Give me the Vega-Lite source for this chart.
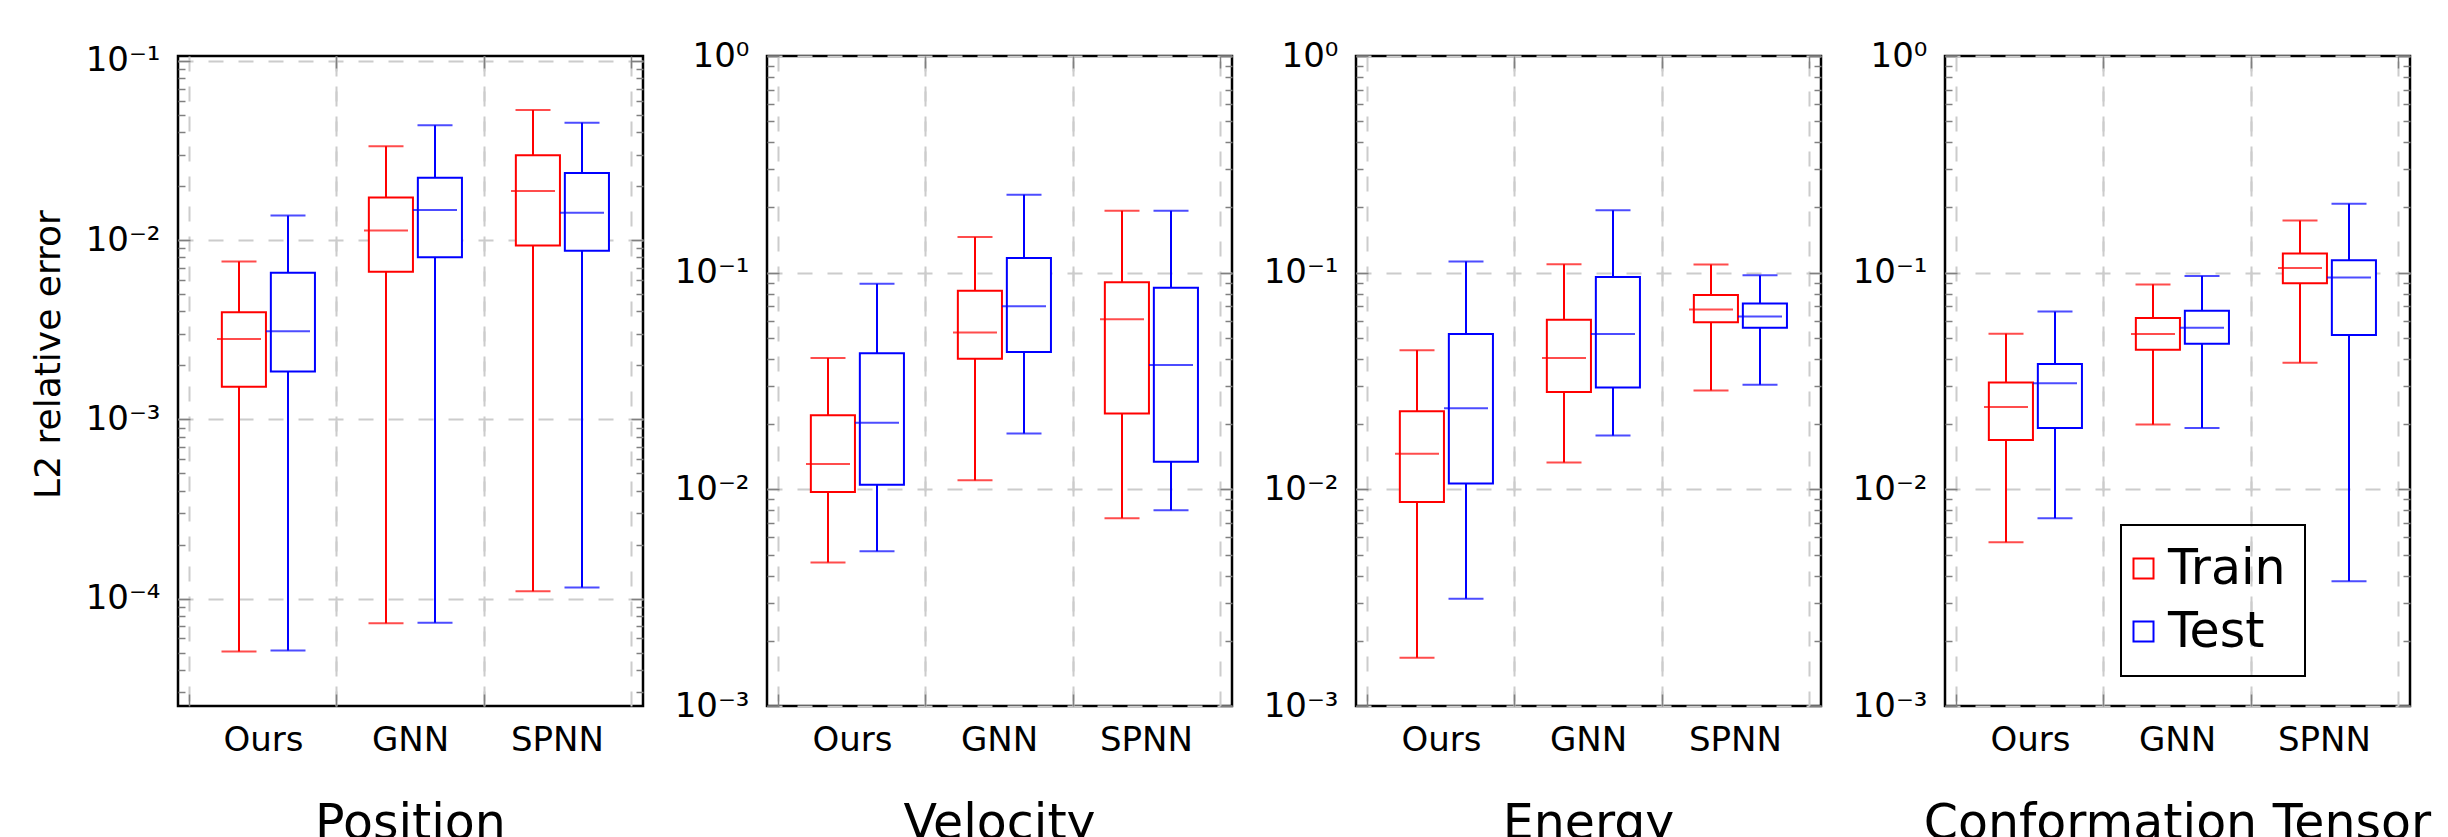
{
  "$schema": "https://vega.github.io/schema/vega-lite/v6.json",
  "padding": {"left": 28, "top": 37, "right": 0, "bottom": -10},
  "spacing": 124,
  "bounds": "flush",
  "config": {"view": {"stroke": "black", "strokeWidth": 2.5}, "font": "DejaVu Sans"},
  "resolve": {"scale": {"stroke": "independent", "fill": "independent"}, "legend": {"stroke": "independent", "fill": "independent"}},
  "data": {"values": [
    {"panel": "Position", "method": "Ours", "set": "Train", "lower": 5.07e-5, "q1": 1.52e-3, "median": 2.81e-3, "q3": 3.96e-3, "upper": 7.6e-3},
    {"panel": "Position", "method": "Ours", "set": "Test", "lower": 5.14e-5, "q1": 1.85e-3, "median": 3.1e-3, "q3": 6.58e-3, "upper": 1.37e-2},
    {"panel": "Position", "method": "GNN", "set": "Train", "lower": 7.3e-5, "q1": 6.67e-3, "median": 1.13e-2, "q3": 1.73e-2, "upper": 3.34e-2},
    {"panel": "Position", "method": "GNN", "set": "Test", "lower": 7.35e-5, "q1": 8.03e-3, "median": 1.47e-2, "q3": 2.23e-2, "upper": 4.37e-2},
    {"panel": "Position", "method": "SPNN", "set": "Train", "lower": 1.10e-4, "q1": 9.34e-3, "median": 1.88e-2, "q3": 2.97e-2, "upper": 5.32e-2},
    {"panel": "Position", "method": "SPNN", "set": "Test", "lower": 1.155e-4, "q1": 8.72e-3, "median": 1.42e-2, "q3": 2.37e-2, "upper": 4.52e-2},
    {"panel": "Velocity", "method": "Ours", "set": "Train", "lower": 4.6e-3, "q1": 9.72e-3, "median": 1.31e-2, "q3": 2.2e-2, "upper": 4.04e-2},
    {"panel": "Velocity", "method": "Ours", "set": "Test", "lower": 5.18e-3, "q1": 1.05e-2, "median": 2.03e-2, "q3": 4.25e-2, "upper": 8.88e-2},
    {"panel": "Velocity", "method": "GNN", "set": "Train", "lower": 1.1e-2, "q1": 4.01e-2, "median": 5.3e-2, "q3": 8.25e-2, "upper": 0.146},
    {"panel": "Velocity", "method": "GNN", "set": "Test", "lower": 1.81e-2, "q1": 4.3e-2, "median": 7.0e-2, "q3": 0.117, "upper": 0.229},
    {"panel": "Velocity", "method": "SPNN", "set": "Train", "lower": 7.36e-3, "q1": 2.24e-2, "median": 6.1e-2, "q3": 9.03e-2, "upper": 0.193},
    {"panel": "Velocity", "method": "SPNN", "set": "Test", "lower": 8.01e-3, "q1": 1.34e-2, "median": 3.75e-2, "q3": 8.53e-2, "upper": 0.193},
    {"panel": "Energy", "method": "Ours", "set": "Train", "lower": 1.67e-3, "q1": 8.73e-3, "median": 1.46e-2, "q3": 2.29e-2, "upper": 4.39e-2},
    {"panel": "Energy", "method": "Ours", "set": "Test", "lower": 3.13e-3, "q1": 1.064e-2, "median": 2.37e-2, "q3": 5.21e-2, "upper": 0.1127},
    {"panel": "Energy", "method": "GNN", "set": "Train", "lower": 1.33e-2, "q1": 2.81e-2, "median": 4.04e-2, "q3": 6.07e-2, "upper": 0.1094},
    {"panel": "Energy", "method": "GNN", "set": "Test", "lower": 1.77e-2, "q1": 2.95e-2, "median": 5.21e-2, "q3": 9.55e-2, "upper": 0.194},
    {"panel": "Energy", "method": "SPNN", "set": "Train", "lower": 2.86e-2, "q1": 5.9e-2, "median": 6.76e-2, "q3": 7.88e-2, "upper": 0.109},
    {"panel": "Energy", "method": "SPNN", "set": "Test", "lower": 3.04e-2, "q1": 5.57e-2, "median": 6.28e-2, "q3": 7.2e-2, "upper": 9.72e-2},
    {"panel": "Conformation Tensor", "method": "Ours", "set": "Train", "lower": 5.7e-3, "q1": 1.69e-2, "median": 2.4e-2, "q3": 3.11e-2, "upper": 5.23e-2},
    {"panel": "Conformation Tensor", "method": "Ours", "set": "Test", "lower": 7.36e-3, "q1": 1.92e-2, "median": 3.09e-2, "q3": 3.79e-2, "upper": 6.61e-2},
    {"panel": "Conformation Tensor", "method": "GNN", "set": "Train", "lower": 1.99e-2, "q1": 4.41e-2, "median": 5.21e-2, "q3": 6.18e-2, "upper": 8.83e-2},
    {"panel": "Conformation Tensor", "method": "GNN", "set": "Test", "lower": 1.92e-2, "q1": 4.7e-2, "median": 5.57e-2, "q3": 6.68e-2, "upper": 9.66e-2},
    {"panel": "Conformation Tensor", "method": "SPNN", "set": "Train", "lower": 3.84e-2, "q1": 8.93e-2, "median": 0.1052, "q3": 0.1227, "upper": 0.174},
    {"panel": "Conformation Tensor", "method": "SPNN", "set": "Test", "lower": 3.77e-3, "q1": 5.15e-2, "median": 9.5e-2, "q3": 0.114, "upper": 0.208}
  ]},
  "hconcat": [
    {
      "width": 465, "height": 650,
      "title": {"text": "Position", "orient": "bottom", "fontSize": 49, "font": "DejaVu Sans", "fontWeight": "normal", "color": "black", "offset": 43},
      "transform": [{"filter": "datum.panel == 'Position'"}],
      "resolve": {"axis": {"x": "independent", "y": "independent"}},
      "layer": [
        {"mark": {"type": "rule", "strokeWidth": 2},
         "encoding": {
           "x": {"field": "method", "type": "nominal", "sort": ["Ours", "GNN", "SPNN"], "scale": {"paddingInner": 0, "paddingOuter": 0.0816}, "axis": {"orient": "bottom", "title": null, "labelAngle": 0, "labelFont": "DejaVu Sans", "labelFontSize": 34, "labelColor": "black", "labelPadding": 17, "ticks": false, "grid": false, "domain": false, "bandPosition": 0.5}},
           "xOffset": {"field": "set", "type": "nominal", "sort": ["Train", "Test"], "scale": {"paddingInner": 0, "paddingOuter": 0.5}},
           "y": {"field": "lower", "type": "quantitative", "scale": {"type": "log", "domain": [2.52e-5, 0.1064], "nice": false}, "axis": {"orient": "left", "title": "L2 relative error", "titleFont": "DejaVu Sans", "titleFontSize": 36, "titleFontWeight": "normal", "titleColor": "black", "titlePadding": 18, "titleY": 298, "values": [0.0001, 0.001, 0.01, 0.1], "labelExpr": "datum.value >= 0.99 ? '10⁰' : datum.value >= 0.099 ? '10⁻¹' : datum.value >= 0.0099 ? '10⁻²' : datum.value >= 0.00099 ? '10⁻³' : '10⁻⁴'", "labelFont": "DejaVu Sans", "labelFontSize": 34, "labelColor": "black", "labelPadding": 18, "ticks": false, "grid": false, "domain": false}},
           "y2": {"field": "q1"},
           "stroke": {"field": "set", "type": "nominal", "scale": {"domain": ["Train", "Test"], "range": ["#ff0000", "#0000ff"]}, "legend": null}
         }},
        {"mark": {"type": "rule", "strokeWidth": 2},
         "encoding": {
           "x": {"field": "method", "type": "nominal", "sort": ["Ours", "GNN", "SPNN"], "scale": {"paddingInner": 0, "paddingOuter": 0.0816}, "axis": {"orient": "bottom", "title": null, "labels": false, "ticks": true, "tickSize": -12, "tickColor": "#808080", "tickWidth": 1.5, "grid": true, "gridColor": "#cccccc", "gridDash": [15, 15], "gridWidth": 2, "domain": false, "bandPosition": 0}},
           "xOffset": {"field": "set", "type": "nominal", "sort": ["Train", "Test"], "scale": {"paddingInner": 0, "paddingOuter": 0.5}},
           "y": {"field": "q3", "type": "quantitative", "scale": {"type": "log", "domain": [2.52e-5, 0.1064], "nice": false}, "axis": {"orient": "left", "title": null, "labels": false, "values": [0.0001, 0.001, 0.01, 0.1], "tickSize": -12, "tickColor": "#808080", "tickWidth": 1.5, "grid": true, "gridColor": "#cccccc", "gridDash": [15, 15], "gridWidth": 2, "domain": false}},
           "y2": {"field": "upper"},
           "stroke": {"field": "set", "type": "nominal", "scale": {"domain": ["Train", "Test"], "range": ["#ff0000", "#0000ff"]}, "legend": null}
         }},
        {"mark": {"type": "bar", "filled": false, "fill": "white", "strokeWidth": 2, "width": {"band": 0.9}},
         "encoding": {
           "x": {"field": "method", "type": "nominal", "sort": ["Ours", "GNN", "SPNN"], "scale": {"paddingInner": 0, "paddingOuter": 0.0816}, "axis": {"orient": "top", "title": null, "labels": false, "ticks": true, "tickSize": -12, "tickColor": "#808080", "tickWidth": 1.5, "grid": true, "gridColor": "#cccccc", "gridDash": [15, 15], "gridWidth": 2, "domain": false, "bandPosition": 1}},
           "xOffset": {"field": "set", "type": "nominal", "sort": ["Train", "Test"], "scale": {"paddingInner": 0, "paddingOuter": 0.5}},
           "y": {"field": "q1", "type": "quantitative", "scale": {"type": "log", "domain": [2.52e-5, 0.1064], "nice": false}, "axis": {"orient": "left", "title": null, "labels": false, "values": [3e-5, 4e-5, 5e-5, 6e-5, 7e-5, 8e-5, 9e-5, 2e-4, 3e-4, 4e-4, 5e-4, 6e-4, 7e-4, 8e-4, 9e-4, 0.002, 0.003, 0.004, 0.005, 0.006, 0.007, 0.008, 0.009, 0.02, 0.03, 0.04, 0.05, 0.06, 0.07, 0.08, 0.09], "tickSize": -7, "tickColor": "#808080", "tickWidth": 1.5, "grid": false, "domain": false}},
           "y2": {"field": "q3"},
           "stroke": {"field": "set", "type": "nominal", "scale": {"domain": ["Train", "Test"], "range": ["#ff0000", "#0000ff"]}, "legend": null}
         }},
        {"mark": {"type": "tick", "orient": "horizontal", "size": 44, "thickness": 2},
         "encoding": {
           "x": {"field": "method", "type": "nominal", "sort": ["Ours", "GNN", "SPNN"], "scale": {"paddingInner": 0, "paddingOuter": 0.0816}, "axis": null},
           "xOffset": {"field": "set", "type": "nominal", "sort": ["Train", "Test"], "scale": {"paddingInner": 0, "paddingOuter": 0.5}},
           "y": {"field": "median", "type": "quantitative", "scale": {"type": "log", "domain": [2.52e-5, 0.1064], "nice": false}, "axis": {"orient": "right", "title": null, "labels": false, "values": [0.0001, 0.001, 0.01, 0.1], "tickSize": -12, "tickColor": "#808080", "tickWidth": 1.5, "grid": false, "domain": false}},
           "fill": {"field": "set", "type": "nominal", "scale": {"domain": ["Train", "Test"], "range": ["#ff0000", "#0000ff"]}, "legend": null}
         }},
        {"mark": {"type": "tick", "orient": "horizontal", "size": 35, "thickness": 2},
         "encoding": {
           "x": {"field": "method", "type": "nominal", "sort": ["Ours", "GNN", "SPNN"], "scale": {"paddingInner": 0, "paddingOuter": 0.0816}, "axis": null},
           "xOffset": {"field": "set", "type": "nominal", "sort": ["Train", "Test"], "scale": {"paddingInner": 0, "paddingOuter": 0.5}},
           "y": {"field": "lower", "type": "quantitative", "scale": {"type": "log", "domain": [2.52e-5, 0.1064], "nice": false}, "axis": {"orient": "right", "title": null, "labels": false, "values": [3e-5, 4e-5, 5e-5, 6e-5, 7e-5, 8e-5, 9e-5, 2e-4, 3e-4, 4e-4, 5e-4, 6e-4, 7e-4, 8e-4, 9e-4, 0.002, 0.003, 0.004, 0.005, 0.006, 0.007, 0.008, 0.009, 0.02, 0.03, 0.04, 0.05, 0.06, 0.07, 0.08, 0.09], "tickSize": -7, "tickColor": "#808080", "tickWidth": 1.5, "grid": false, "domain": false}},
           "fill": {"field": "set", "type": "nominal", "scale": {"domain": ["Train", "Test"], "range": ["#ff0000", "#0000ff"]}, "legend": null}
         }},
        {"mark": {"type": "tick", "orient": "horizontal", "size": 35, "thickness": 2},
         "encoding": {
           "x": {"field": "method", "type": "nominal", "sort": ["Ours", "GNN", "SPNN"], "scale": {"paddingInner": 0, "paddingOuter": 0.0816}, "axis": null},
           "xOffset": {"field": "set", "type": "nominal", "sort": ["Train", "Test"], "scale": {"paddingInner": 0, "paddingOuter": 0.5}},
           "y": {"field": "upper", "type": "quantitative", "scale": {"type": "log", "domain": [2.52e-5, 0.1064], "nice": false}, "axis": null},
           "fill": {"field": "set", "type": "nominal", "scale": {"domain": ["Train", "Test"], "range": ["#ff0000", "#0000ff"]}, "legend": null}
         }}
      ]
    },
    {
      "width": 465, "height": 650,
      "title": {"text": "Velocity", "orient": "bottom", "fontSize": 49, "font": "DejaVu Sans", "fontWeight": "normal", "color": "black", "offset": 43},
      "transform": [{"filter": "datum.panel == 'Velocity'"}],
      "resolve": {"axis": {"x": "independent", "y": "independent"}},
      "layer": [
        {"mark": {"type": "rule", "strokeWidth": 2},
         "encoding": {
           "x": {"field": "method", "type": "nominal", "sort": ["Ours", "GNN", "SPNN"], "scale": {"paddingInner": 0, "paddingOuter": 0.0816}, "axis": {"orient": "bottom", "title": null, "labelAngle": 0, "labelFont": "DejaVu Sans", "labelFontSize": 34, "labelColor": "black", "labelPadding": 17, "ticks": false, "grid": false, "domain": false, "bandPosition": 0.5}},
           "xOffset": {"field": "set", "type": "nominal", "sort": ["Train", "Test"], "scale": {"paddingInner": 0, "paddingOuter": 0.5}},
           "y": {"field": "lower", "type": "quantitative", "scale": {"type": "log", "domain": [0.001, 1], "nice": false}, "axis": {"orient": "left", "title": null, "values": [0.001, 0.01, 0.1, 1], "labelExpr": "datum.value >= 0.99 ? '10⁰' : datum.value >= 0.099 ? '10⁻¹' : datum.value >= 0.0099 ? '10⁻²' : datum.value >= 0.00099 ? '10⁻³' : '10⁻⁴'", "labelFont": "DejaVu Sans", "labelFontSize": 34, "labelColor": "black", "labelPadding": 18, "ticks": false, "grid": false, "domain": false}},
           "y2": {"field": "q1"},
           "stroke": {"field": "set", "type": "nominal", "scale": {"domain": ["Train", "Test"], "range": ["#ff0000", "#0000ff"]}, "legend": null}
         }},
        {"mark": {"type": "rule", "strokeWidth": 2},
         "encoding": {
           "x": {"field": "method", "type": "nominal", "sort": ["Ours", "GNN", "SPNN"], "scale": {"paddingInner": 0, "paddingOuter": 0.0816}, "axis": {"orient": "bottom", "title": null, "labels": false, "ticks": true, "tickSize": -12, "tickColor": "#808080", "tickWidth": 1.5, "grid": true, "gridColor": "#cccccc", "gridDash": [15, 15], "gridWidth": 2, "domain": false, "bandPosition": 0}},
           "xOffset": {"field": "set", "type": "nominal", "sort": ["Train", "Test"], "scale": {"paddingInner": 0, "paddingOuter": 0.5}},
           "y": {"field": "q3", "type": "quantitative", "scale": {"type": "log", "domain": [0.001, 1], "nice": false}, "axis": {"orient": "left", "title": null, "labels": false, "values": [0.001, 0.01, 0.1, 1], "tickSize": -12, "tickColor": "#808080", "tickWidth": 1.5, "grid": true, "gridColor": "#cccccc", "gridDash": [15, 15], "gridWidth": 2, "domain": false}},
           "y2": {"field": "upper"},
           "stroke": {"field": "set", "type": "nominal", "scale": {"domain": ["Train", "Test"], "range": ["#ff0000", "#0000ff"]}, "legend": null}
         }},
        {"mark": {"type": "bar", "filled": false, "fill": "white", "strokeWidth": 2, "width": {"band": 0.9}},
         "encoding": {
           "x": {"field": "method", "type": "nominal", "sort": ["Ours", "GNN", "SPNN"], "scale": {"paddingInner": 0, "paddingOuter": 0.0816}, "axis": {"orient": "top", "title": null, "labels": false, "ticks": true, "tickSize": -12, "tickColor": "#808080", "tickWidth": 1.5, "grid": true, "gridColor": "#cccccc", "gridDash": [15, 15], "gridWidth": 2, "domain": false, "bandPosition": 1}},
           "xOffset": {"field": "set", "type": "nominal", "sort": ["Train", "Test"], "scale": {"paddingInner": 0, "paddingOuter": 0.5}},
           "y": {"field": "q1", "type": "quantitative", "scale": {"type": "log", "domain": [0.001, 1], "nice": false}, "axis": {"orient": "left", "title": null, "labels": false, "values": [0.002, 0.003, 0.004, 0.005, 0.006, 0.007, 0.008, 0.009, 0.02, 0.03, 0.04, 0.05, 0.06, 0.07, 0.08, 0.09, 0.2, 0.3, 0.4, 0.5, 0.6, 0.7, 0.8, 0.9], "tickSize": -7, "tickColor": "#808080", "tickWidth": 1.5, "grid": false, "domain": false}},
           "y2": {"field": "q3"},
           "stroke": {"field": "set", "type": "nominal", "scale": {"domain": ["Train", "Test"], "range": ["#ff0000", "#0000ff"]}, "legend": null}
         }},
        {"mark": {"type": "tick", "orient": "horizontal", "size": 44, "thickness": 2},
         "encoding": {
           "x": {"field": "method", "type": "nominal", "sort": ["Ours", "GNN", "SPNN"], "scale": {"paddingInner": 0, "paddingOuter": 0.0816}, "axis": null},
           "xOffset": {"field": "set", "type": "nominal", "sort": ["Train", "Test"], "scale": {"paddingInner": 0, "paddingOuter": 0.5}},
           "y": {"field": "median", "type": "quantitative", "scale": {"type": "log", "domain": [0.001, 1], "nice": false}, "axis": {"orient": "right", "title": null, "labels": false, "values": [0.001, 0.01, 0.1, 1], "tickSize": -12, "tickColor": "#808080", "tickWidth": 1.5, "grid": false, "domain": false}},
           "fill": {"field": "set", "type": "nominal", "scale": {"domain": ["Train", "Test"], "range": ["#ff0000", "#0000ff"]}, "legend": null}
         }},
        {"mark": {"type": "tick", "orient": "horizontal", "size": 35, "thickness": 2},
         "encoding": {
           "x": {"field": "method", "type": "nominal", "sort": ["Ours", "GNN", "SPNN"], "scale": {"paddingInner": 0, "paddingOuter": 0.0816}, "axis": null},
           "xOffset": {"field": "set", "type": "nominal", "sort": ["Train", "Test"], "scale": {"paddingInner": 0, "paddingOuter": 0.5}},
           "y": {"field": "lower", "type": "quantitative", "scale": {"type": "log", "domain": [0.001, 1], "nice": false}, "axis": {"orient": "right", "title": null, "labels": false, "values": [0.002, 0.003, 0.004, 0.005, 0.006, 0.007, 0.008, 0.009, 0.02, 0.03, 0.04, 0.05, 0.06, 0.07, 0.08, 0.09, 0.2, 0.3, 0.4, 0.5, 0.6, 0.7, 0.8, 0.9], "tickSize": -7, "tickColor": "#808080", "tickWidth": 1.5, "grid": false, "domain": false}},
           "fill": {"field": "set", "type": "nominal", "scale": {"domain": ["Train", "Test"], "range": ["#ff0000", "#0000ff"]}, "legend": null}
         }},
        {"mark": {"type": "tick", "orient": "horizontal", "size": 35, "thickness": 2},
         "encoding": {
           "x": {"field": "method", "type": "nominal", "sort": ["Ours", "GNN", "SPNN"], "scale": {"paddingInner": 0, "paddingOuter": 0.0816}, "axis": null},
           "xOffset": {"field": "set", "type": "nominal", "sort": ["Train", "Test"], "scale": {"paddingInner": 0, "paddingOuter": 0.5}},
           "y": {"field": "upper", "type": "quantitative", "scale": {"type": "log", "domain": [0.001, 1], "nice": false}, "axis": null},
           "fill": {"field": "set", "type": "nominal", "scale": {"domain": ["Train", "Test"], "range": ["#ff0000", "#0000ff"]}, "legend": null}
         }}
      ]
    },
    {
      "width": 465, "height": 650,
      "title": {"text": "Energy", "orient": "bottom", "fontSize": 49, "font": "DejaVu Sans", "fontWeight": "normal", "color": "black", "offset": 43},
      "transform": [{"filter": "datum.panel == 'Energy'"}],
      "resolve": {"axis": {"x": "independent", "y": "independent"}},
      "layer": [
        {"mark": {"type": "rule", "strokeWidth": 2},
         "encoding": {
           "x": {"field": "method", "type": "nominal", "sort": ["Ours", "GNN", "SPNN"], "scale": {"paddingInner": 0, "paddingOuter": 0.0816}, "axis": {"orient": "bottom", "title": null, "labelAngle": 0, "labelFont": "DejaVu Sans", "labelFontSize": 34, "labelColor": "black", "labelPadding": 17, "ticks": false, "grid": false, "domain": false, "bandPosition": 0.5}},
           "xOffset": {"field": "set", "type": "nominal", "sort": ["Train", "Test"], "scale": {"paddingInner": 0, "paddingOuter": 0.5}},
           "y": {"field": "lower", "type": "quantitative", "scale": {"type": "log", "domain": [0.001, 1], "nice": false}, "axis": {"orient": "left", "title": null, "values": [0.001, 0.01, 0.1, 1], "labelExpr": "datum.value >= 0.99 ? '10⁰' : datum.value >= 0.099 ? '10⁻¹' : datum.value >= 0.0099 ? '10⁻²' : datum.value >= 0.00099 ? '10⁻³' : '10⁻⁴'", "labelFont": "DejaVu Sans", "labelFontSize": 34, "labelColor": "black", "labelPadding": 18, "ticks": false, "grid": false, "domain": false}},
           "y2": {"field": "q1"},
           "stroke": {"field": "set", "type": "nominal", "scale": {"domain": ["Train", "Test"], "range": ["#ff0000", "#0000ff"]}, "legend": null}
         }},
        {"mark": {"type": "rule", "strokeWidth": 2},
         "encoding": {
           "x": {"field": "method", "type": "nominal", "sort": ["Ours", "GNN", "SPNN"], "scale": {"paddingInner": 0, "paddingOuter": 0.0816}, "axis": {"orient": "bottom", "title": null, "labels": false, "ticks": true, "tickSize": -12, "tickColor": "#808080", "tickWidth": 1.5, "grid": true, "gridColor": "#cccccc", "gridDash": [15, 15], "gridWidth": 2, "domain": false, "bandPosition": 0}},
           "xOffset": {"field": "set", "type": "nominal", "sort": ["Train", "Test"], "scale": {"paddingInner": 0, "paddingOuter": 0.5}},
           "y": {"field": "q3", "type": "quantitative", "scale": {"type": "log", "domain": [0.001, 1], "nice": false}, "axis": {"orient": "left", "title": null, "labels": false, "values": [0.001, 0.01, 0.1, 1], "tickSize": -12, "tickColor": "#808080", "tickWidth": 1.5, "grid": true, "gridColor": "#cccccc", "gridDash": [15, 15], "gridWidth": 2, "domain": false}},
           "y2": {"field": "upper"},
           "stroke": {"field": "set", "type": "nominal", "scale": {"domain": ["Train", "Test"], "range": ["#ff0000", "#0000ff"]}, "legend": null}
         }},
        {"mark": {"type": "bar", "filled": false, "fill": "white", "strokeWidth": 2, "width": {"band": 0.9}},
         "encoding": {
           "x": {"field": "method", "type": "nominal", "sort": ["Ours", "GNN", "SPNN"], "scale": {"paddingInner": 0, "paddingOuter": 0.0816}, "axis": {"orient": "top", "title": null, "labels": false, "ticks": true, "tickSize": -12, "tickColor": "#808080", "tickWidth": 1.5, "grid": true, "gridColor": "#cccccc", "gridDash": [15, 15], "gridWidth": 2, "domain": false, "bandPosition": 1}},
           "xOffset": {"field": "set", "type": "nominal", "sort": ["Train", "Test"], "scale": {"paddingInner": 0, "paddingOuter": 0.5}},
           "y": {"field": "q1", "type": "quantitative", "scale": {"type": "log", "domain": [0.001, 1], "nice": false}, "axis": {"orient": "left", "title": null, "labels": false, "values": [0.002, 0.003, 0.004, 0.005, 0.006, 0.007, 0.008, 0.009, 0.02, 0.03, 0.04, 0.05, 0.06, 0.07, 0.08, 0.09, 0.2, 0.3, 0.4, 0.5, 0.6, 0.7, 0.8, 0.9], "tickSize": -7, "tickColor": "#808080", "tickWidth": 1.5, "grid": false, "domain": false}},
           "y2": {"field": "q3"},
           "stroke": {"field": "set", "type": "nominal", "scale": {"domain": ["Train", "Test"], "range": ["#ff0000", "#0000ff"]}, "legend": null}
         }},
        {"mark": {"type": "tick", "orient": "horizontal", "size": 44, "thickness": 2},
         "encoding": {
           "x": {"field": "method", "type": "nominal", "sort": ["Ours", "GNN", "SPNN"], "scale": {"paddingInner": 0, "paddingOuter": 0.0816}, "axis": null},
           "xOffset": {"field": "set", "type": "nominal", "sort": ["Train", "Test"], "scale": {"paddingInner": 0, "paddingOuter": 0.5}},
           "y": {"field": "median", "type": "quantitative", "scale": {"type": "log", "domain": [0.001, 1], "nice": false}, "axis": {"orient": "right", "title": null, "labels": false, "values": [0.001, 0.01, 0.1, 1], "tickSize": -12, "tickColor": "#808080", "tickWidth": 1.5, "grid": false, "domain": false}},
           "fill": {"field": "set", "type": "nominal", "scale": {"domain": ["Train", "Test"], "range": ["#ff0000", "#0000ff"]}, "legend": null}
         }},
        {"mark": {"type": "tick", "orient": "horizontal", "size": 35, "thickness": 2},
         "encoding": {
           "x": {"field": "method", "type": "nominal", "sort": ["Ours", "GNN", "SPNN"], "scale": {"paddingInner": 0, "paddingOuter": 0.0816}, "axis": null},
           "xOffset": {"field": "set", "type": "nominal", "sort": ["Train", "Test"], "scale": {"paddingInner": 0, "paddingOuter": 0.5}},
           "y": {"field": "lower", "type": "quantitative", "scale": {"type": "log", "domain": [0.001, 1], "nice": false}, "axis": {"orient": "right", "title": null, "labels": false, "values": [0.002, 0.003, 0.004, 0.005, 0.006, 0.007, 0.008, 0.009, 0.02, 0.03, 0.04, 0.05, 0.06, 0.07, 0.08, 0.09, 0.2, 0.3, 0.4, 0.5, 0.6, 0.7, 0.8, 0.9], "tickSize": -7, "tickColor": "#808080", "tickWidth": 1.5, "grid": false, "domain": false}},
           "fill": {"field": "set", "type": "nominal", "scale": {"domain": ["Train", "Test"], "range": ["#ff0000", "#0000ff"]}, "legend": null}
         }},
        {"mark": {"type": "tick", "orient": "horizontal", "size": 35, "thickness": 2},
         "encoding": {
           "x": {"field": "method", "type": "nominal", "sort": ["Ours", "GNN", "SPNN"], "scale": {"paddingInner": 0, "paddingOuter": 0.0816}, "axis": null},
           "xOffset": {"field": "set", "type": "nominal", "sort": ["Train", "Test"], "scale": {"paddingInner": 0, "paddingOuter": 0.5}},
           "y": {"field": "upper", "type": "quantitative", "scale": {"type": "log", "domain": [0.001, 1], "nice": false}, "axis": null},
           "fill": {"field": "set", "type": "nominal", "scale": {"domain": ["Train", "Test"], "range": ["#ff0000", "#0000ff"]}, "legend": null}
         }}
      ]
    },
    {
      "width": 465, "height": 650,
      "title": {"text": "Conformation Tensor", "orient": "bottom", "fontSize": 49, "font": "DejaVu Sans", "fontWeight": "normal", "color": "black", "offset": 43},
      "transform": [{"filter": "datum.panel == 'Conformation Tensor'"}],
      "resolve": {"axis": {"x": "independent", "y": "independent"}},
      "layer": [
        {"mark": {"type": "rule", "strokeWidth": 2},
         "encoding": {
           "x": {"field": "method", "type": "nominal", "sort": ["Ours", "GNN", "SPNN"], "scale": {"paddingInner": 0, "paddingOuter": 0.0816}, "axis": {"orient": "bottom", "title": null, "labelAngle": 0, "labelFont": "DejaVu Sans", "labelFontSize": 34, "labelColor": "black", "labelPadding": 17, "ticks": false, "grid": false, "domain": false, "bandPosition": 0.5}},
           "xOffset": {"field": "set", "type": "nominal", "sort": ["Train", "Test"], "scale": {"paddingInner": 0, "paddingOuter": 0.5}},
           "y": {"field": "lower", "type": "quantitative", "scale": {"type": "log", "domain": [0.001, 1], "nice": false}, "axis": {"orient": "left", "title": null, "values": [0.001, 0.01, 0.1, 1], "labelExpr": "datum.value >= 0.99 ? '10⁰' : datum.value >= 0.099 ? '10⁻¹' : datum.value >= 0.0099 ? '10⁻²' : datum.value >= 0.00099 ? '10⁻³' : '10⁻⁴'", "labelFont": "DejaVu Sans", "labelFontSize": 34, "labelColor": "black", "labelPadding": 18, "ticks": false, "grid": false, "domain": false}},
           "y2": {"field": "q1"},
           "stroke": {"field": "set", "type": "nominal", "scale": {"domain": ["Train", "Test"], "range": ["#ff0000", "#0000ff"]}, "legend": {"orient": "none", "legendX": 176, "legendY": 469, "title": null, "symbolType": "M-1,-1H1V1H-1Z M-0.82,-0.82V0.82H0.82V-0.82Z", "symbolSize": 484, "symbolStrokeWidth": 0, "symbolOffset": -21, "labelFont": "DejaVu Sans", "labelFontSize": 49, "labelColor": "black", "padding": 19, "strokeColor": "black", "rowPadding": 13, "labelOffset": 0, "labelLimit": 400, "encode": {"legend": {"update": {"strokeWidth": {"value": 2}}}}}}
         }},
        {"mark": {"type": "rule", "strokeWidth": 2},
         "encoding": {
           "x": {"field": "method", "type": "nominal", "sort": ["Ours", "GNN", "SPNN"], "scale": {"paddingInner": 0, "paddingOuter": 0.0816}, "axis": {"orient": "bottom", "title": null, "labels": false, "ticks": true, "tickSize": -12, "tickColor": "#808080", "tickWidth": 1.5, "grid": true, "gridColor": "#cccccc", "gridDash": [15, 15], "gridWidth": 2, "domain": false, "bandPosition": 0}},
           "xOffset": {"field": "set", "type": "nominal", "sort": ["Train", "Test"], "scale": {"paddingInner": 0, "paddingOuter": 0.5}},
           "y": {"field": "q3", "type": "quantitative", "scale": {"type": "log", "domain": [0.001, 1], "nice": false}, "axis": {"orient": "left", "title": null, "labels": false, "values": [0.001, 0.01, 0.1, 1], "tickSize": -12, "tickColor": "#808080", "tickWidth": 1.5, "grid": true, "gridColor": "#cccccc", "gridDash": [15, 15], "gridWidth": 2, "domain": false}},
           "y2": {"field": "upper"},
           "stroke": {"field": "set", "type": "nominal", "scale": {"domain": ["Train", "Test"], "range": ["#ff0000", "#0000ff"]}, "legend": {"orient": "none", "legendX": 176, "legendY": 469, "title": null, "symbolType": "M-1,-1H1V1H-1Z M-0.82,-0.82V0.82H0.82V-0.82Z", "symbolSize": 484, "symbolStrokeWidth": 0, "symbolOffset": -21, "labelFont": "DejaVu Sans", "labelFontSize": 49, "labelColor": "black", "padding": 19, "strokeColor": "black", "rowPadding": 13, "labelOffset": 0, "labelLimit": 400, "encode": {"legend": {"update": {"strokeWidth": {"value": 2}}}}}}
         }},
        {"mark": {"type": "bar", "filled": false, "fill": "white", "strokeWidth": 2, "width": {"band": 0.9}},
         "encoding": {
           "x": {"field": "method", "type": "nominal", "sort": ["Ours", "GNN", "SPNN"], "scale": {"paddingInner": 0, "paddingOuter": 0.0816}, "axis": {"orient": "top", "title": null, "labels": false, "ticks": true, "tickSize": -12, "tickColor": "#808080", "tickWidth": 1.5, "grid": true, "gridColor": "#cccccc", "gridDash": [15, 15], "gridWidth": 2, "domain": false, "bandPosition": 1}},
           "xOffset": {"field": "set", "type": "nominal", "sort": ["Train", "Test"], "scale": {"paddingInner": 0, "paddingOuter": 0.5}},
           "y": {"field": "q1", "type": "quantitative", "scale": {"type": "log", "domain": [0.001, 1], "nice": false}, "axis": {"orient": "left", "title": null, "labels": false, "values": [0.002, 0.003, 0.004, 0.005, 0.006, 0.007, 0.008, 0.009, 0.02, 0.03, 0.04, 0.05, 0.06, 0.07, 0.08, 0.09, 0.2, 0.3, 0.4, 0.5, 0.6, 0.7, 0.8, 0.9], "tickSize": -7, "tickColor": "#808080", "tickWidth": 1.5, "grid": false, "domain": false}},
           "y2": {"field": "q3"},
           "stroke": {"field": "set", "type": "nominal", "scale": {"domain": ["Train", "Test"], "range": ["#ff0000", "#0000ff"]}, "legend": {"orient": "none", "legendX": 176, "legendY": 469, "title": null, "symbolType": "M-1,-1H1V1H-1Z M-0.82,-0.82V0.82H0.82V-0.82Z", "symbolSize": 484, "symbolStrokeWidth": 0, "symbolOffset": -21, "labelFont": "DejaVu Sans", "labelFontSize": 49, "labelColor": "black", "padding": 19, "strokeColor": "black", "rowPadding": 13, "labelOffset": 0, "labelLimit": 400, "encode": {"legend": {"update": {"strokeWidth": {"value": 2}}}}}}
         }},
        {"mark": {"type": "tick", "orient": "horizontal", "size": 44, "thickness": 2},
         "encoding": {
           "x": {"field": "method", "type": "nominal", "sort": ["Ours", "GNN", "SPNN"], "scale": {"paddingInner": 0, "paddingOuter": 0.0816}, "axis": null},
           "xOffset": {"field": "set", "type": "nominal", "sort": ["Train", "Test"], "scale": {"paddingInner": 0, "paddingOuter": 0.5}},
           "y": {"field": "median", "type": "quantitative", "scale": {"type": "log", "domain": [0.001, 1], "nice": false}, "axis": {"orient": "right", "title": null, "labels": false, "values": [0.001, 0.01, 0.1, 1], "tickSize": -12, "tickColor": "#808080", "tickWidth": 1.5, "grid": false, "domain": false}},
           "fill": {"field": "set", "type": "nominal", "scale": {"domain": ["Train", "Test"], "range": ["#ff0000", "#0000ff"]}, "legend": null}
         }},
        {"mark": {"type": "tick", "orient": "horizontal", "size": 35, "thickness": 2},
         "encoding": {
           "x": {"field": "method", "type": "nominal", "sort": ["Ours", "GNN", "SPNN"], "scale": {"paddingInner": 0, "paddingOuter": 0.0816}, "axis": null},
           "xOffset": {"field": "set", "type": "nominal", "sort": ["Train", "Test"], "scale": {"paddingInner": 0, "paddingOuter": 0.5}},
           "y": {"field": "lower", "type": "quantitative", "scale": {"type": "log", "domain": [0.001, 1], "nice": false}, "axis": {"orient": "right", "title": null, "labels": false, "values": [0.002, 0.003, 0.004, 0.005, 0.006, 0.007, 0.008, 0.009, 0.02, 0.03, 0.04, 0.05, 0.06, 0.07, 0.08, 0.09, 0.2, 0.3, 0.4, 0.5, 0.6, 0.7, 0.8, 0.9], "tickSize": -7, "tickColor": "#808080", "tickWidth": 1.5, "grid": false, "domain": false}},
           "fill": {"field": "set", "type": "nominal", "scale": {"domain": ["Train", "Test"], "range": ["#ff0000", "#0000ff"]}, "legend": null}
         }},
        {"mark": {"type": "tick", "orient": "horizontal", "size": 35, "thickness": 2},
         "encoding": {
           "x": {"field": "method", "type": "nominal", "sort": ["Ours", "GNN", "SPNN"], "scale": {"paddingInner": 0, "paddingOuter": 0.0816}, "axis": null},
           "xOffset": {"field": "set", "type": "nominal", "sort": ["Train", "Test"], "scale": {"paddingInner": 0, "paddingOuter": 0.5}},
           "y": {"field": "upper", "type": "quantitative", "scale": {"type": "log", "domain": [0.001, 1], "nice": false}, "axis": null},
           "fill": {"field": "set", "type": "nominal", "scale": {"domain": ["Train", "Test"], "range": ["#ff0000", "#0000ff"]}, "legend": null}
         }}
      ]
    }
  ]
}
